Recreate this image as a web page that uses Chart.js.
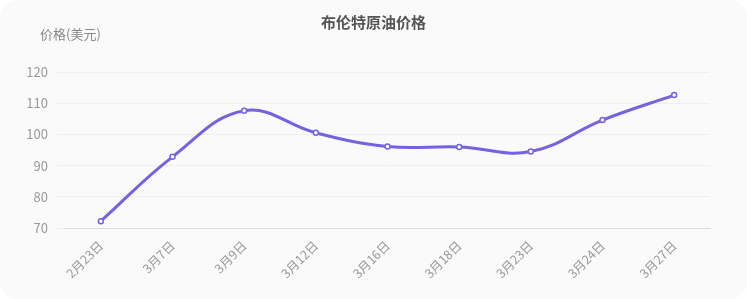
<!DOCTYPE html>
<html>
<head>
<meta charset="utf-8">
<script src="https://cdn.jsdelivr.net/npm/chart.js@4"></script>
<style>
  html, body { margin: 0; padding: 0; background: #fff; }
  .card { width: 747px; height: 299px; background: #fafafa; border-radius: 18px; overflow: hidden; }
</style>
</head>
<body>
<div class="card"><canvas id="oil" width="747" height="299"></canvas></div>
<script>
const labels = ["2月23日", "3月7日", "3月9日", "3月12日", "3月16日", "3月18日", "3月23日", "3月24日", "3月27日"];
const prices = [72.2, 92.8, 107.6, 100.5, 96.1, 96.0, 94.5, 104.6, 112.6];
const yTicks = [70, 80, 90, 100, 110, 120];

const lineColor = '#7363e1';
const font = "'Noto Sans CJK SC', 'Noto Sans', sans-serif";

// y axis caption sits above the ticks, not rotated
const unitLabel = {
  id: 'unitLabel',
  afterDraw(chart) {
    const ctx = chart.ctx;
    ctx.save();
    ctx.font = "13px " + font;
    ctx.fillStyle = '#888';
    ctx.textAlign = 'left';
    ctx.textBaseline = 'middle';
    ctx.fillText('价格(美元)', 40, 34);
    ctx.restore();
  }
};

new Chart(document.getElementById('oil'), {
  type: 'line',
  data: {
    labels: labels,
    datasets: [{
      label: '布伦特原油价格',
      data: prices,
      borderColor: lineColor,
      borderWidth: 3,
      tension: 0.4,
      pointRadius: 2.5,
      pointBorderWidth: 1.5,
      pointBackgroundColor: '#fff',
      pointBorderColor: lineColor
    }]
  },
  options: {
    responsive: false,
    animation: false,
    layout: { padding: 0 },
    plugins: {
      legend: { display: false },
      tooltip: { enabled: false },
      title: {
        display: true,
        text: '布伦特原油价格',
        color: '#555',
        font: { family: font, size: 15, weight: 'bold' },
        padding: { top: 13, bottom: 41 }
      }
    },
    scales: {
      x: {
        offset: true,
        grid: { display: false },
        border: { color: '#ddd' },
        ticks: { color: '#999', font: { family: font, size: 12.5 }, maxRotation: 45, minRotation: 45, padding: 2 },
        afterFit(s) { s.height = 71; }
      },
      y: {
        min: 70,
        max: 120,
        afterBuildTicks(s) { s.ticks = yTicks.map(v => ({ value: v })); },
        grid: { color: '#eee' },
        border: { display: false },
        ticks: { color: '#999', font: { family: font, size: 13 }, padding: 9 },
        afterFit(s) { s.width = 65; }
      },
      // empty right gutter so the title stays centred on the card
      gutter: {
        position: 'right',
        grid: { display: false },
        border: { display: false },
        ticks: { display: false },
        afterFit(s) { s.width = 37; }
      }
    }
  },
  plugins: [unitLabel]
});
</script>
</body>
</html>
